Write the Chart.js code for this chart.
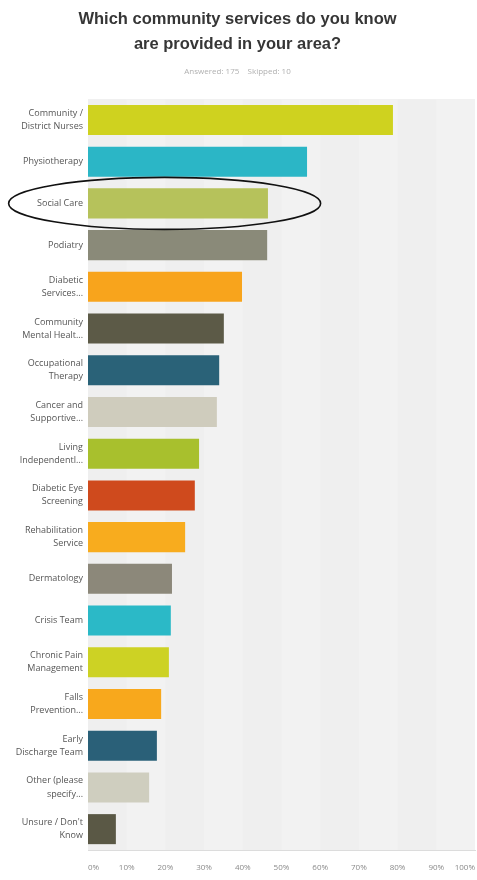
<!DOCTYPE html>
<html>
<head>
  <meta charset="utf-8">
  <title>Community Services Awareness</title>
  <script src="https://cdn.jsdelivr.net/npm/chart.js"></script>
  <style>
    body {
      margin: 0;
      padding: 0;
      background-color: #fff;
      font-family: "Open Sans", Arial, sans-serif;
    }
    .chart-container {
      width: 477px;
      height: 880px;
    }
  </style>
</head>
<body>
  <div class="chart-container">
    <canvas id="servicesChart"></canvas>
  </div>

  <script>
    // ----- Survey data -----
    const services = [
      ["Community /", "District Nurses"],
      ["Physiotherapy"],
      ["Social Care"],
      ["Podiatry"],
      ["Diabetic", "Services..."],
      ["Community", "Mental Healt..."],
      ["Occupational", "Therapy"],
      ["Cancer and", "Supportive..."],
      ["Living", "Independentl..."],
      ["Diabetic Eye", "Screening"],
      ["Rehabilitation", "Service"],
      ["Dermatology"],
      ["Crisis Team"],
      ["Chronic Pain", "Management"],
      ["Falls", "Prevention..."],
      ["Early", "Discharge Team"],
      ["Other (please", "specify..."],
      ["Unsure / Don't", "Know"]
    ];

    // percent of respondents
    const percents = [
      78.8, 56.6, 46.5, 46.3, 39.8, 35.1, 33.9, 33.3, 28.7,
      27.6, 25.1, 21.7, 21.4, 20.9, 18.9, 17.8, 15.8, 7.2
    ];

    const barColors = [
      "#cfd21f", "#2bb6c6", "#b6c25b", "#8a8a79", "#f8a41c", "#5c5a47",
      "#2a6278", "#cfccbd", "#a8c02d", "#cf4a1d", "#f8ac1e", "#8c887a",
      "#2bb9c7", "#cdd224", "#f8a81c", "#2a6078", "#cfcebf", "#5a5845"
    ];

    const xTicks = [0, 10, 20, 30, 40, 50, 60, 70, 80, 90, 100];

    const titleLines = ["Which community services do you know", "are provided in your area?"];
    const subtitleText = "Answered: 175    Skipped: 10";

    // highlighted row (circled in the report)
    const highlightIndex = 2;

    // ----- Plot background with faint alternating 10% bands -----
    const bandBackground = {
      id: "bandBackground",
      beforeDatasetsDraw(chart) {
        const { ctx, chartArea, scales } = chart;
        ctx.save();
        ctx.fillStyle = "#efefef";
        ctx.fillRect(chartArea.left, chartArea.top, chartArea.right - chartArea.left, chartArea.bottom - chartArea.top);
        for (let i = 0; i < xTicks.length - 1; i++) {
          if (i % 2 === 1) {
            const x0 = scales.x.getPixelForValue(xTicks[i]);
            const x1 = scales.x.getPixelForValue(xTicks[i + 1]);
            ctx.fillStyle = "#f2f2f2";
            ctx.fillRect(x0, chartArea.top, x1 - x0, chartArea.bottom - chartArea.top);
          }
        }
        ctx.restore();
      }
    };

    // ----- Hand-drawn style ellipse around one row -----
    const rowEllipse = {
      id: "rowEllipse",
      afterDraw(chart) {
        const { ctx, scales } = chart;
        const cy = scales.y.getPixelForValue(highlightIndex);
        const cx = scales.x.getPixelForValue(19.8);
        ctx.save();
        ctx.strokeStyle = "#111";
        ctx.lineWidth = 1.6;
        ctx.beginPath();
        ctx.ellipse(cx, cy, 156, 26, 0, 0, Math.PI * 2);
        ctx.stroke();
        ctx.restore();
      }
    };

    const ctx = document.getElementById("servicesChart").getContext("2d");
    new Chart(ctx, {
      type: "bar",
      data: {
        labels: services,
        datasets: [{
          data: percents,
          backgroundColor: barColors,
          barPercentage: 0.72,
          categoryPercentage: 1.0
        }]
      },
      options: {
        indexAxis: "y",
        responsive: true,
        maintainAspectRatio: false,
        animation: false,
        layout: { padding: { left: 0, right: 2, top: 0, bottom: 0 } },
        scales: {
          x: {
            min: 0,
            max: 100,
            afterBuildTicks(scale) {
              scale.ticks = xTicks.map(v => ({ value: v }));
            },
            afterFit(scale) {
              scale.height = 30;
              scale.paddingLeft = 0;
              scale.paddingRight = 0;
            },
            grid: { display: false, drawTicks: false },
            border: { display: true, color: "#dcdcdc", width: 1 },
            ticks: {
              align: "inner",
              padding: 13,
              color: "#8a8a8a",
              font: { family: "Open Sans", size: 8 },
              callback: v => v + "%"
            }
          },
          y: {
            afterFit(scale) { scale.width = 88; },
            grid: { display: false, drawTicks: false },
            border: { display: false },
            ticks: {
              padding: 5,
              color: "#555",
              font: { family: "Open Sans", size: 9, lineHeight: 1.45 }
            }
          }
        },
        plugins: {
          legend: { display: false },
          tooltip: { enabled: false },
          title: {
            display: true,
            text: titleLines,
            color: "#363636",
            font: { family: "Liberation Sans", size: 16.5, weight: "bold", lineHeight: 1.5 },
            padding: { top: 7, bottom: 10 }
          },
          subtitle: {
            display: true,
            text: subtitleText,
            color: "#b0b0b0",
            font: { family: "Open Sans", size: 8 },
            padding: { top: 0, bottom: 23 }
          }
        }
      },
      plugins: [bandBackground, rowEllipse]
    });
  </script>
</body>
</html>
